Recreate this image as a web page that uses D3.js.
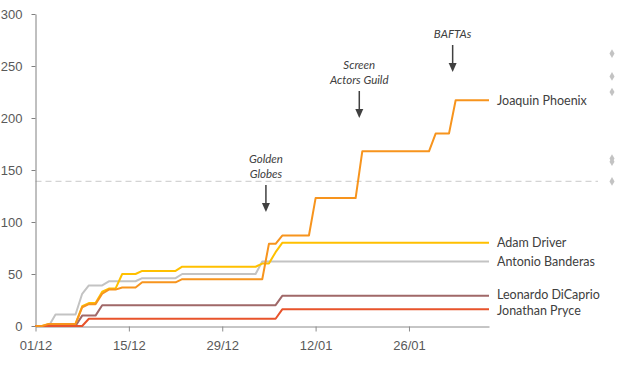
<!DOCTYPE html>
<html><head><meta charset="utf-8">
<script src="https://cdn.jsdelivr.net/npm/d3@7"></script>
<style>
body{margin:0;background:#fff;}
svg{display:block;font-family:Lato,"Open Sans",sans-serif;}
</style></head>
<body><svg id="c" width="620" height="369"></svg>
<script>
// ---- data ----
const xTickLabels = ["2019-12-01","2019-12-15","2019-12-29","2020-01-12","2020-01-26"];
const seriesNames = ["Antonio Banderas","Adam Driver","Leonardo DiCaprio","Jonathan Pryce","Joaquin Phoenix"];
const seriesColors = ["#c3c3c3","#ffc000","#a06868","#e8532b","#f7941d"];
const banderasDates = ["2019-12-01","2019-12-03","2019-12-04","2019-12-07","2019-12-08","2019-12-09","2019-12-11","2019-12-12","2019-12-16","2019-12-17","2019-12-22","2019-12-23","2020-01-03","2020-01-04","2020-02-07"];
const banderasVals  = [0,0,11,11,31,39,39,43,43,46,46,50,50,62,62];
const driverDates = ["2019-12-01","2019-12-02","2019-12-03","2019-12-07","2019-12-08","2019-12-09","2019-12-10","2019-12-11","2019-12-12","2019-12-13","2019-12-14","2019-12-16","2019-12-17","2019-12-22","2019-12-23","2020-01-03","2020-01-04","2020-01-05","2020-01-06","2020-01-07","2020-02-07"];
const driverVals  = [0,0,2,2,19,22,22,33,36,36,50,50,53,53,57,57,60,60,71,80,80];
const dicaprioDates = ["2019-12-01","2019-12-07","2019-12-08","2019-12-10","2019-12-11","2020-01-06","2020-01-07","2020-02-07"];
const dicaprioVals  = [0,0,10,10,20,20,29,29];
const pryceDates = ["2019-12-01","2019-12-08","2019-12-09","2020-01-06","2020-01-07","2020-02-07"];
const pryceVals  = [0,0,7,7,16,16];
const phoenixDates = ["2019-12-01","2019-12-02","2019-12-03","2019-12-07","2019-12-08","2019-12-09","2019-12-10","2019-12-11","2019-12-12","2019-12-13","2019-12-14","2019-12-16","2019-12-17","2019-12-22","2019-12-23","2020-01-04","2020-01-05","2020-01-06","2020-01-07","2020-01-11","2020-01-12","2020-01-18","2020-01-19","2020-01-29","2020-01-30","2020-02-01","2020-02-02","2020-02-07"];
const phoenixVals  = [0,0,2,2,18,21,21,31,35,35,37,37,42,42,45,45,79,79,87,87,123,123,168,168,185,185,217,217];
const threshold = 139;
const sideMarkers = [262,240,225,161,158,139];
const events = ["2020-01-05","2020-01-19","2020-02-02"];
const eventLabels = [["Golden","Globes"],["Screen","Actors Guild"],["BAFTAs"]];

// ---- build ----
const parse = d3.timeParse("%Y-%m-%d");
const fmt = d3.timeFormat("%d/%m");
const labelNudge = [0,0,-1,1,0];
const series = [
  {name:seriesNames[0], color:seriesColors[0], dates:banderasDates, vals:banderasVals},
  {name:seriesNames[1], color:seriesColors[1], dates:driverDates, vals:driverVals},
  {name:seriesNames[2], color:seriesColors[2], dates:dicaprioDates, vals:dicaprioVals},
  {name:seriesNames[3], color:seriesColors[3], dates:pryceDates, vals:pryceVals},
  {name:seriesNames[4], color:seriesColors[4], dates:phoenixDates, vals:phoenixVals}
].map((s,i) => ({...s, nudge:labelNudge[i], pts: s.dates.map((d,k)=>({d:parse(d), v:s.vals[k]}))}));

const svg = d3.select("#c");
const x = d3.scaleTime().domain([parse("2019-12-01"), parse("2020-02-07")]).range([35.5, 489]);
const y = d3.scaleLinear().domain([0,300]).range([326,14]);
const textCol = "#595959";

// threshold dashed line
svg.append("line").attr("x1",35.5).attr("x2",598).attr("y1",y(threshold)).attr("y2",y(threshold))
  .attr("stroke","#d4d4d4").attr("stroke-width",1.3).attr("stroke-dasharray","6,4");

// side markers
svg.selectAll("path.mk").data(sideMarkers).join("path").attr("class","mk")
  .attr("d", d3.symbol().type(d3.symbolDiamond).size(22))
  .attr("transform", d=>`translate(612,${y(d)})`).attr("fill","#c3c3c3");

// axes
const yAxis = svg.append("g").attr("transform","translate(35.5,0)")
  .call(d3.axisLeft(y).tickValues([0,50,100,150,200,250,300]).tickSize(4).tickSizeOuter(0).tickPadding(9));
yAxis.selectAll("text").attr("font-size",13).attr("fill",textCol);
yAxis.selectAll("line,path").attr("stroke","#808080");

const xAxis = svg.append("g").attr("transform","translate(0,326.5)")
  .call(d3.axisBottom(x).tickValues(xTickLabels.map(parse)).tickFormat(fmt).tickSize(5).tickSizeOuter(0).tickPadding(9));
xAxis.selectAll("text").attr("font-size",13).attr("fill",textCol);
xAxis.selectAll("line,path").attr("stroke","#8c8c8c");

// lines
const line = d3.line().x(p=>x(p.d)).y(p=>y(p.v));
svg.selectAll("path.series").data(series).join("path").attr("class","series")
  .attr("d", s=>line(s.pts)).attr("fill","none").attr("stroke",s=>s.color)
  .attr("stroke-width",2).attr("stroke-linejoin","round");

// end labels
svg.selectAll("text.lbl").data(series).join("text").attr("class","lbl")
  .attr("x",497).attr("y",s=>y(s.pts[s.pts.length-1].v)+s.nudge).attr("dy","0.35em")
  .attr("font-size",12.5).attr("fill","#404040").text(s=>s.name);

// event annotations
const evTop = [153, 59, 28];
events.forEach((e,i)=>{
  const ex = x(parse(e)) - 3;
  const g = svg.append("g");
  const lines = eventLabels[i];
  lines.forEach((t,j)=>{
    g.append("text").attr("x",ex).attr("y",evTop[i]+j*15+10).attr("text-anchor","middle")
      .attr("font-size",11.5).attr("font-style","italic").attr("fill","#404040").text(t);
  });
  const a0 = evTop[i] + lines.length*15 + 2;
  const a1 = a0 + 27;
  g.append("line").attr("x1",ex).attr("x2",ex).attr("y1",a0).attr("y2",a1-8)
    .attr("stroke","#404040").attr("stroke-width",1.5);
  g.append("path").attr("d",`M${ex-4},${a1-9}L${ex+4},${a1-9}L${ex},${a1}Z`).attr("fill","#404040");
});
</script></body></html>
